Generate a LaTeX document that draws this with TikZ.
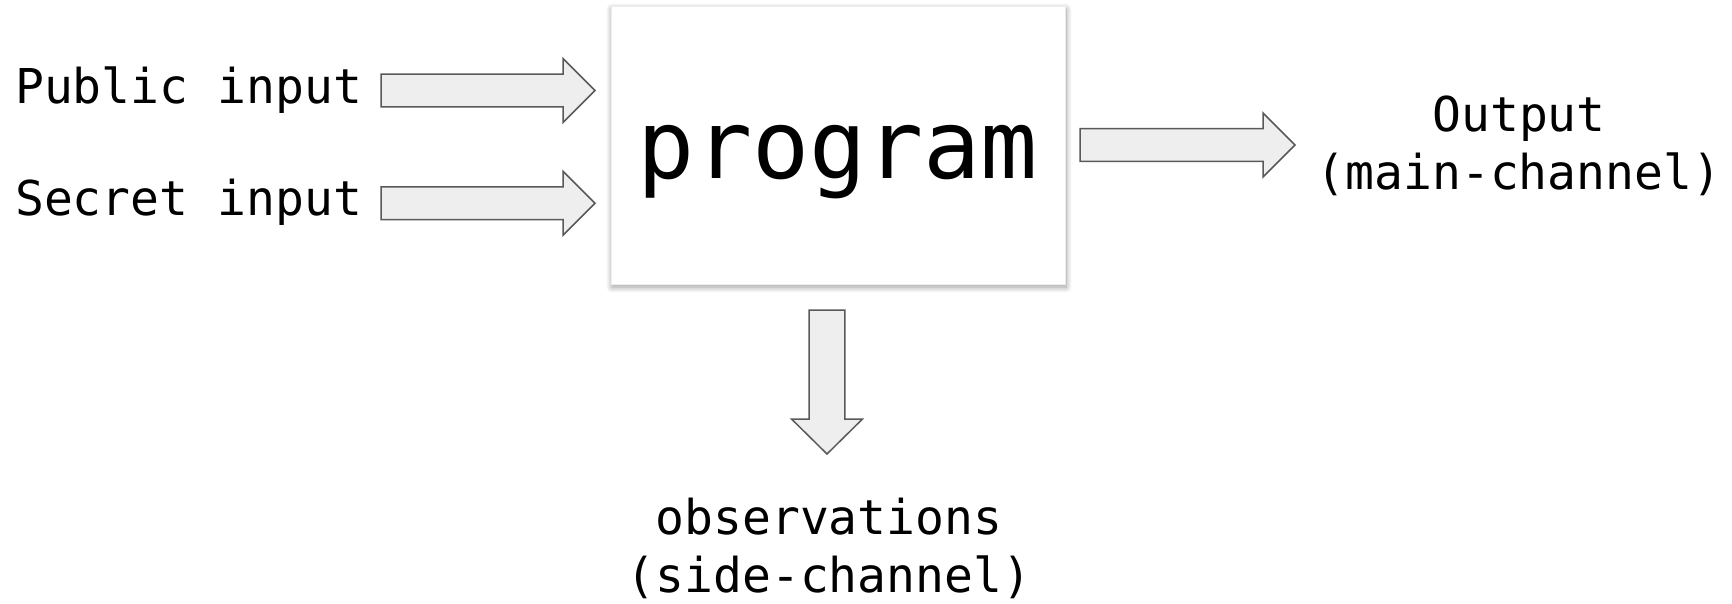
\documentclass[tikz,border=0pt]{standalone}
\usepackage{fontspec}
\newfontfamily\codefont{DejaVu Sans Mono}
\usetikzlibrary{calc,shadows.blur}
\definecolor{arrowfill}{HTML}{EEEEEE}
\definecolor{arrowline}{HTML}{595959}
\tikzset{
  label/.style={font=\codefont\fontsize{48}{58}\selectfont, inner sep=0pt, align=center},
  blockarrow/.style={fill=arrowfill, draw=arrowline, line width=1.5pt, line join=miter},
  progbox/.style={fill=white, draw=black!7, line width=0.5pt, minimum width=454pt, minimum height=278pt,
    inner sep=0pt, text height=90pt, text depth=22pt, font=\codefont\fontsize{95}{95}\selectfont,
    blur shadow={shadow xshift=1pt, shadow yshift=-3pt, shadow blur steps=12, shadow blur radius=6pt, shadow opacity=40}}
}
\begin{document}
\begin{tikzpicture}[x=1pt,y=-1pt]
\useasboundingbox (0,0) rectangle (1732,604);

% central box
\node[progbox] (prog) at (838,145) {program};

% labels
\node[label, anchor=base west] (pub) at (15,104) {Public input};
\node[label, anchor=base west] (sec) at (15,216) {Secret input};
\node[label, anchor=north] (out) at (1519,96) {Output\\(main-channel)};
\node[label, anchor=north] (obs) at (829,498) {observations\\(side-channel)};

% arrow end points
\coordinate (pubT) at (381,90.5);  \coordinate (pubH) at (595,90.5);
\coordinate (secT) at (381,203.3); \coordinate (secH) at (595,203.3);
\coordinate (outT) at (1080,145);  \coordinate (outH) at (1295,145);
\coordinate (obsT) at (827,310);   \coordinate (obsH) at (827,454);

% horizontal block arrows: shaft half-height 16.3, head half-height 32, head length 32
\foreach \t/\h in {pubT/pubH, secT/secH, outT/outH}{
  \draw[blockarrow] ($(\t)+(0,-16.3)$) -- ($(\h)+(-32,-16.3)$) -- ($(\h)+(-32,-32)$) -- (\h)
    -- ($(\h)+(-32,32)$) -- ($(\h)+(-32,16.3)$) -- ($(\t)+(0,16.3)$) -- cycle;
}
% downward block arrow
\draw[blockarrow] ($(obsT)+(-17.8,0)$) -- ($(obsH)+(-17.8,-35)$) -- ($(obsH)+(-35.5,-35)$) -- (obsH)
  -- ($(obsH)+(35.5,-35)$) -- ($(obsH)+(17.8,-35)$) -- ($(obsT)+(17.8,0)$) -- cycle;
\end{tikzpicture}
\end{document}
